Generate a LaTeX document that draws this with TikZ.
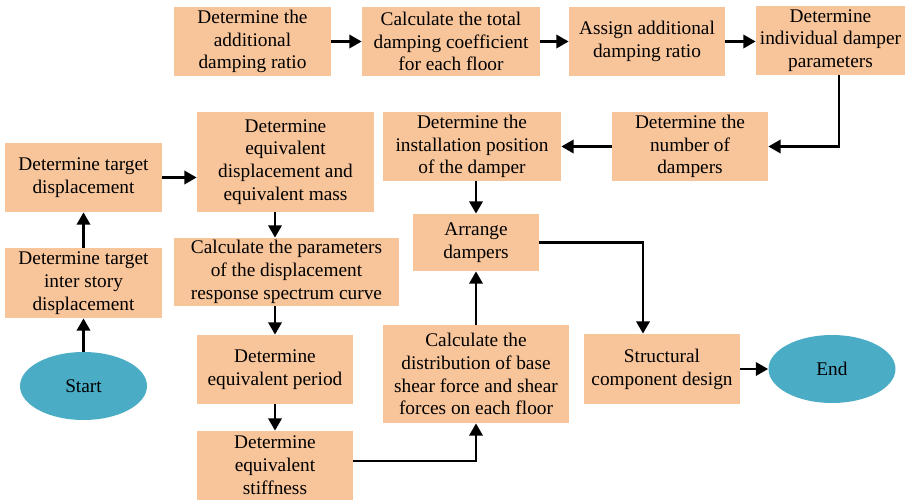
\documentclass[tikz,border=0pt]{standalone}
\usepackage{fontspec}
\setmainfont{Liberation Serif}
\usepackage{xcolor}
\usepackage{tikz}
\usetikzlibrary{positioning, arrows.meta, shapes.geometric, calc}
\definecolor{peach}{RGB}{248,197,155}
\definecolor{teal}{RGB}{75,172,198}

\begin{document}
\begin{tikzpicture}[
  x=0.02cm, y=-0.02cm,
  stepbox/.style={rectangle, fill=peach, inner sep=0pt,
                  align=center, font=\fontsize{11}{13}\selectfont},
  terminal/.style={ellipse, fill=teal, inner sep=0pt,
                   minimum width=2.54cm, minimum height=1.36cm,
                   font=\fontsize{11}{13}\selectfont},
  arr/.style={-{Triangle[length=7pt, width=7.5pt]}, line width=1.6pt, draw=black}
]
\useasboundingbox (0,0) rectangle (907,500);

% === Top row =================================================================
\node[stepbox, minimum width=3.14cm, minimum height=1.38cm] (A1) at (252.5, 41.5)
  {Determine the\\additional\\damping ratio};
\node[stepbox, minimum width=3.56cm, minimum height=1.38cm] (A2) at (451, 41.5)
  {Calculate the total\\damping coefficient\\for each floor};
\node[stepbox, minimum width=3.12cm, minimum height=1.38cm] (A3) at (647, 41.5)
  {Assign additional\\damping ratio};
\node[stepbox, minimum width=2.98cm, minimum height=1.38cm] (A4) at (830.5, 40.5)
  {Determine\\individual damper\\parameters};

% === Damper layout (middle right) ============================================
\node[stepbox, minimum width=3.12cm, minimum height=1.38cm] (B1) at (690, 146.5)
  {Determine the\\number of\\dampers};
\node[stepbox, minimum width=3.56cm, minimum height=1.38cm] (B2) at (472, 146.5)
  {Determine the\\installation position\\of the damper};
\node[stepbox, minimum width=2.52cm, minimum height=1.14cm] (B3) at (476, 242.5)
  {Arrange\\dampers};
\node[stepbox, minimum width=3.72cm, minimum height=1.96cm] (B4) at (476, 374)
  {Calculate the\\distribution of base\\shear force and shear\\forces on each floor};
\node[stepbox, minimum width=3.12cm, minimum height=1.40cm] (C1) at (662, 369)
  {Structural\\component design};
\node[terminal] (End) at (832, 369) {End};

% === Left column =============================================================
\node[terminal] (Start) at (83.5, 386) {Start};
\node[stepbox, minimum width=3.14cm, minimum height=1.40cm] (L1) at (83.5, 283)
  {Determine target\\inter story\\displacement};
\node[stepbox, minimum width=3.14cm, minimum height=1.38cm] (L2) at (83.5, 177.5)
  {Determine target\\displacement};

% === Equivalent system (middle column) =======================================
\node[stepbox, minimum width=3.54cm, minimum height=2.00cm] (M1) at (285.5, 162)
  {Determine\\equivalent\\displacement and\\equivalent mass};
\node[stepbox, minimum width=4.50cm, minimum height=1.36cm] (M2) at (286.5, 272)
  {Calculate the parameters\\of the displacement\\response spectrum curve};
\node[stepbox, minimum width=3.12cm, minimum height=1.38cm] (M3) at (275, 369.5)
  {Determine\\equivalent period};
\node[stepbox, minimum width=3.12cm, minimum height=1.38cm] (M4) at (275, 465.5)
  {Determine\\equivalent\\stiffness};

% === Connectors ==============================================================
\draw[arr] (A1.east) -- (A2.west);
\draw[arr] (A2.east) -- (A3.west);
\draw[arr] (A3.east) -- (A3.east -| A4.west);
\draw[arr] ([xshift=0.17cm]A4.south) |- (B1.east);
\draw[arr] (B1.west) -- (B2.east);
\draw[arr] (B2.south -| B3.north) -- (B3.north);
\draw[arr] (B3.east) -| ([xshift=-0.38cm]C1.north);
\draw[arr] (C1.east) -- (C1.east -| End.west);

\draw[arr] (Start.north) -- (L1.south);
\draw[arr] (L1.north) -- (L2.south);
\draw[arr] (L2.east) -- (L2.east -| M1.west);
\draw[arr] (M3.north |- M1.south) -- (M3.north |- M2.north);
\draw[arr] (M3.north |- M2.south) -- (M3.north);
\draw[arr] (M3.south) -- (M4.north);
\draw[arr] ([yshift=0.09cm]M4.east) -| (B4.south);
\draw[arr] (B4.north) -- (B3.south);

\end{tikzpicture}
\end{document}
